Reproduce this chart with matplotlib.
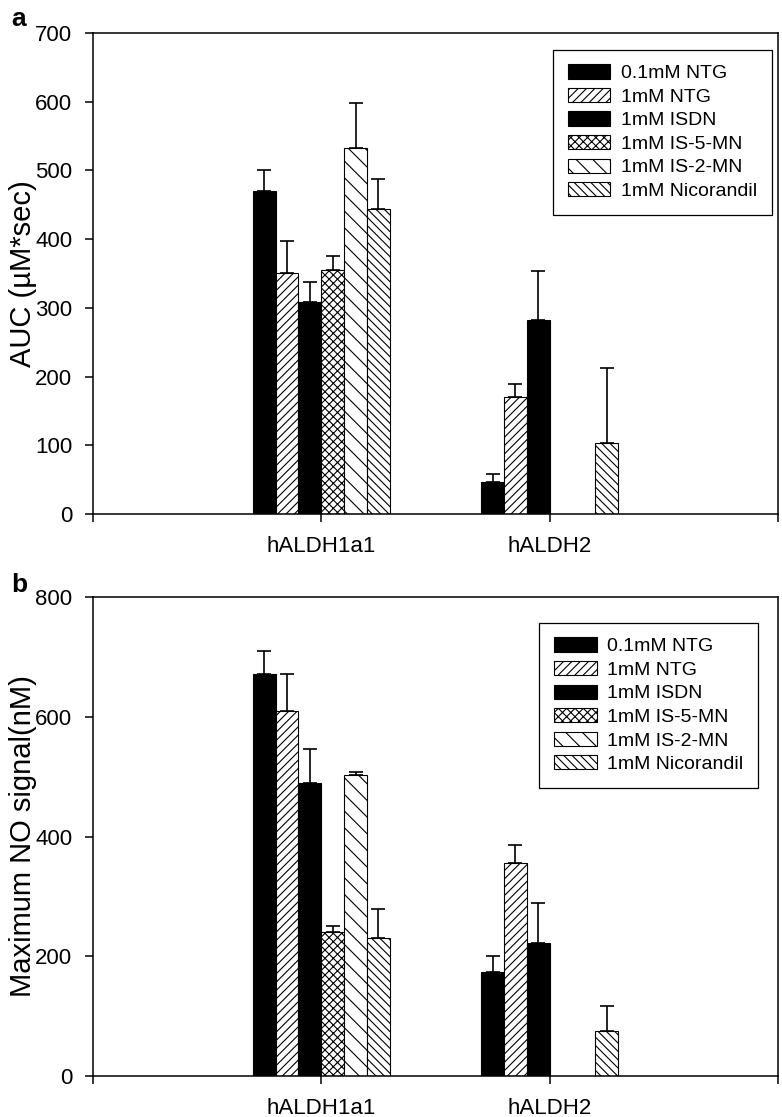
import numpy as np
import matplotlib
matplotlib.use('Agg')
import matplotlib.pyplot as plt

plt.rcParams['font.family'] = ['Liberation Sans', 'DejaVu Sans']
plt.rcParams['hatch.linewidth'] = 0.8

groups = ['hALDH1a1', 'hALDH2']
labels = ['0.1mM NTG', '1mM NTG', '1mM ISDN', '1mM IS-5-MN', '1mM IS-2-MN', '1mM Nicorandil']

# panel a: AUC (uM*sec), mean and upper error
auc_ntg01 = [470, 47]
auc_ntg1 = [350, 171]
auc_isdn = [308, 282]
auc_is5mn = [355, np.nan]
auc_is2mn = [532, np.nan]
auc_nico = [444, 104]
auc_err_ntg01 = [31, 11]
auc_err_ntg1 = [48, 18]
auc_err_isdn = [30, 72]
auc_err_is5mn = [20, 0]
auc_err_is2mn = [66, 0]
auc_err_nico = [43, 109]

# panel b: maximum NO signal (nM)
no_ntg01 = [672, 174]
no_ntg1 = [609, 355]
no_isdn = [490, 222]
no_is5mn = [240, np.nan]
no_is2mn = [503, np.nan]
no_nico = [231, 76]
no_err_ntg01 = [38, 26]
no_err_ntg1 = [62, 31]
no_err_isdn = [56, 67]
no_err_is5mn = [10, 0]
no_err_is2mn = [4, 0]
no_err_nico = [48, 41]

styles = [('black', ''), ('white', '////'), ('black', ''),
          ('white', 'xxxx'), ('white', '\\\\'), ('white', '\\\\\\\\')]


def panel(ax, means, errs, ymax, ystep, ylabel, leg_anchor, letter, lety):
    x = np.arange(1, len(groups)+1)
    w = 0.1
    for i, (m, e) in enumerate(zip(means, errs)):
        fc, h = styles[i]
        xs = x + (i-2.5)*w
        ax.bar(xs, m, w, color=fc, edgecolor='black', linewidth=0.8,
               hatch=h, label=labels[i], zorder=2)
        m = np.array(m, dtype=float)
        e = np.array(e, dtype=float)
        ax.errorbar(xs, m, yerr=[np.zeros_like(e), e], fmt='none',
                    ecolor='black', elinewidth=1.2, capsize=5, capthick=1.2, zorder=3)
    ax.set_xlim(0, 3)
    ax.set_ylim(0, ymax)
    ax.set_xticks([0, 1, 2, 3])
    ax.set_xticklabels(['', groups[0], groups[1], ''])
    ax.set_yticks(np.arange(0, ymax+1, ystep))
    ax.tick_params(direction='out', length=6, width=1.1, labelsize=16)
    ax.tick_params(axis='y', pad=9)
    ax.tick_params(axis='x', pad=10)
    for s in ax.spines.values():
        s.set_linewidth(1.1)
    ax.set_ylabel(ylabel, fontsize=21)
    ax.yaxis.set_label_coords(-0.082, 0.5)
    leg = ax.legend(loc='upper right', bbox_to_anchor=leg_anchor, borderaxespad=0,
                    fontsize=14, fancybox=False, edgecolor='black', framealpha=1,
                    handlelength=2.2, handleheight=0.75, labelspacing=0.29,
                    handletextpad=0.55, borderpad=0.75)
    leg.get_frame().set_linewidth(0.9)
    ax.text(-0.12, lety, letter, transform=ax.transAxes, fontsize=19,
            fontweight='bold', va='center', ha='left')


fig = plt.figure(figsize=(7.82, 11.17), dpi=100)
ax1 = fig.add_axes([0.1189, 0.5398, 0.8760, 0.4307])
ax2 = fig.add_axes([0.1189, 0.0367, 0.8760, 0.4288])

panel(ax1,
      [auc_ntg01, auc_ntg1, auc_isdn, auc_is5mn, auc_is2mn, auc_nico],
      [auc_err_ntg01, auc_err_ntg1, auc_err_isdn, auc_err_is5mn, auc_err_is2mn, auc_err_nico],
      700, 100, 'AUC (\u00b5M*sec)', (0.991, 0.965), 'a', 1.03)
panel(ax2,
      [no_ntg01, no_ntg1, no_isdn, no_is5mn, no_is2mn, no_nico],
      [no_err_ntg01, no_err_ntg1, no_err_isdn, no_err_is5mn, no_err_is2mn, no_err_nico],
      800, 200, 'Maximum NO signal(nM)', (0.971, 0.946), 'b', 1.025)

fig.savefig('out.png', dpi=100)
